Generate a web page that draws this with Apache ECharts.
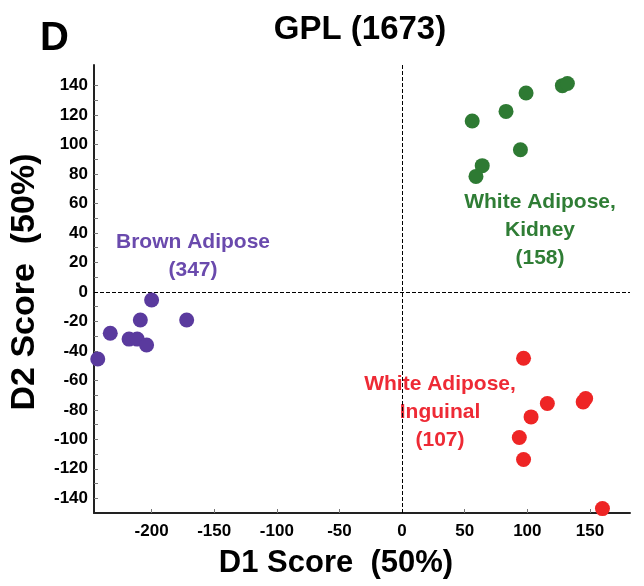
<!DOCTYPE html>
<html>
<head>
<meta charset="utf-8">
<script src="https://cdn.jsdelivr.net/npm/echarts@6/dist/echarts.min.js"></script>
<style>html,body{margin:0;padding:0;background:#fff}#c{width:644px;height:586px}</style>
</head>
<body>
<div id="c"></div>
<script>
// Data (D1 score, D2 score)
const brownAdipose = [[-243,-45.5],[-233,-28],[-218,-32],[-211.5,-32],[-209,-19],[-204,-36],[-200,-5.5],[-172,-19]];
const whiteKidney = [[56,116],[83,122.5],[99,135],[128,140],[132,141.4],[94.5,96.5],[64,85.7],[59,78.4]];
const whiteInguinal = [[97,-45],[116,-75.7],[103,-84.8],[93.6,-98.8],[97,-113.7],[144.6,-74.6],[146.6,-72.3],[160,-147]];
const xTicks = [-200,-150,-100,-50,0,50,100,150];
const yTicks = [-140,-120,-100,-80,-60,-40,-20,0,20,40,60,80,100,120,140];
const yMinorTicks = [-140,-130,-120,-110,-100,-90,-80,-70,-60,-50,-40,-30,-20,-10,0,10,20,30,40,50,60,70,80,90,100,110,120,130,140];
const titleText = 'GPL (1673)';
const panelLetter = 'D';
const xName = 'D1 Score  (50%)';
const yName = 'D2 Score  (50%)';
const brownLabel = 'Brown Adipose\n(347)';
const kidneyLabel = 'White Adipose,\nKidney\n(158)';
const inguinalLabel = 'White Adipose,\nInguinal\n(107)';

const FONT = 'Liberation Sans, Arial, sans-serif';
const chart = echarts.init(document.getElementById('c'), null, {renderer:'canvas'});
const mk = (data, color) => ({
  type:'scatter', data, symbolSize:15, itemStyle:{color, opacity:1}, z:5
});
chart.setOption({
  animation:false,
  backgroundColor:'#fff',
  title:{text:titleText, left:355, top:8, textAlign:'center',
    textStyle:{fontFamily:FONT, fontWeight:'bold', fontSize:33, color:'#000'}},
  grid:{left:94, right:14, top:65, bottom:73},
  xAxis:{type:'value', min:-246, max:182,
    name:xName, nameLocation:'middle', nameGap:35,
    nameTextStyle:{fontFamily:FONT, fontWeight:'bold', fontSize:31, color:'#000', padding:[0,52,0,0]},
    splitLine:{show:false},
    axisLine:{show:true, onZero:false, lineStyle:{color:'#222', width:2}},
    axisTick:{show:true, inside:true, length:4, customValues:xTicks, lineStyle:{color:'#777'}},
    axisLabel:{customValues:xTicks, fontFamily:FONT, fontWeight:'bold', fontSize:17, color:'#000', margin:10}
  },
  yAxis:{type:'value', min:-150, max:154,
    name:yName, nameLocation:'middle', nameGap:52, nameRotate:90,
    nameTextStyle:{fontFamily:FONT, fontWeight:'bold', fontSize:34, color:'#000', padding:[0,0,0,14]},
    splitLine:{show:false},
    axisLine:{show:true, onZero:false, lineStyle:{color:'#222', width:2}},
    axisTick:{show:true, inside:true, length:4, customValues:yMinorTicks, lineStyle:{color:'#777'}},
    axisLabel:{customValues:yTicks, fontFamily:FONT, fontWeight:'bold', fontSize:17, color:'#000', margin:6}
  },
  graphic:[
    {type:'text', left:40, top:19, style:{text:panelLetter, font:'bold 40px '+FONT, fill:'#000'}},
    {type:'text', x:193, y:256, style:{text:brownLabel, font:'bold 21px '+FONT, fill:'#6a4aad', align:'center', verticalAlign:'middle', lineHeight:28}},
    {type:'text', x:540, y:230, style:{text:kidneyLabel, font:'bold 21px '+FONT, fill:'#2f7d35', align:'center', verticalAlign:'middle', lineHeight:28}},
    {type:'text', x:440, y:412, style:{text:inguinalLabel, font:'bold 21px '+FONT, fill:'#ee2a35', align:'center', verticalAlign:'middle', lineHeight:28}}
  ],
  series:[
    Object.assign(mk(brownAdipose, '#5a3a9e'), {
      markLine:{silent:true, symbol:'none', label:{show:false},
        lineStyle:{color:'#000', type:'dashed', width:1},
        data:[{xAxis:0},{yAxis:0}]}
    }),
    mk(whiteKidney, '#2e7a33'),
    mk(whiteInguinal, '#ee2525')
  ]
});
</script>
</body>
</html>
